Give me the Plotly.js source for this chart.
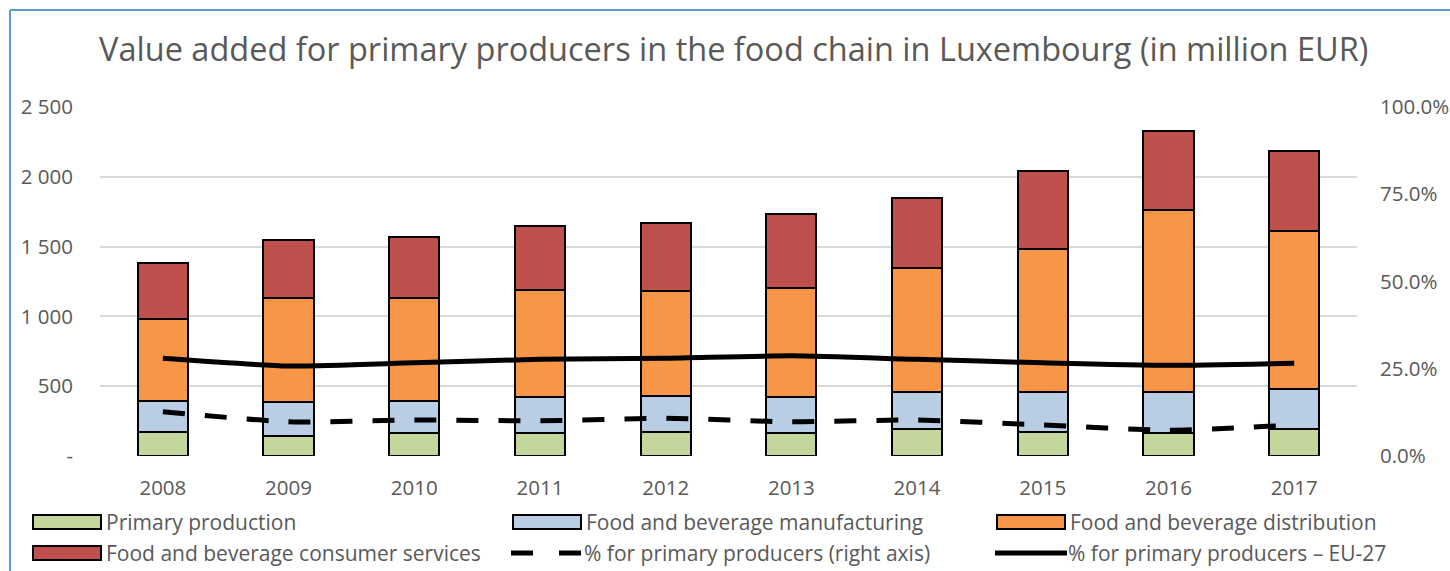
<!DOCTYPE html>
<html>
<head>
<meta charset="utf-8">
<script src="https://cdn.plot.ly/plotly-3.0.1.min.js"></script>
<style>
  html, body { margin: 0; padding: 0; background: #fff; }
  #chart { width: 1450px; height: 571px; }
</style>
</head>
<body>
<div id="chart"></div>
<script>
/* Value added in the food chain, Luxembourg - stacked bars + share lines */

const years = ['2008', '2009', '2010', '2011', '2012', '2013', '2014', '2015', '2016', '2017'];
const primaryProduction = [174, 145, 162, 162, 172, 165, 191, 174, 165, 191];
const manufacturing = [220, 240, 232, 258, 258, 258, 267, 284, 293, 287];
const distribution = [590, 747, 736, 769, 752, 783, 886, 1022, 1302, 1134];
const consumerServices = [399, 415, 439, 461, 487, 527, 506, 559, 570, 571];
const sharePrimaryLU = [12.7, 9.8, 10.3, 10.1, 10.8, 9.8, 10.3, 8.9, 7.4, 8.9];
const sharePrimaryEU = [28.0, 25.8, 26.7, 27.7, 28.0, 28.7, 27.7, 26.7, 26.0, 26.6];

const leftTicks = [0, 500, 1000, 1500, 2000, 2500];
const leftTickText = ['-', '500', '1 000', '1 500', '2 000', '2 500'];
const rightTicks = [0, 25, 50, 75, 100];
const rightTickText = ['0.0%', '25.0%', '50.0%', '75.0%', '100.0%'];

const FONT = '"Open Sans", Lato, sans-serif';
const GREY = '#595959';

// plot area in pixels (used to place the hand-built legend)
const PLOT = { l: 100, r: 1357, t: 107, b: 456 };
const px = x => (x - PLOT.l) / (PLOT.r - PLOT.l);
const py = y => (PLOT.b - y) / (PLOT.b - PLOT.t);

const barSeries = [
    { name: 'Primary production', y: primaryProduction, color: '#C3D69B' },
    { name: 'Food and beverage manufacturing', y: manufacturing, color: '#B9CDE5' },
    { name: 'Food and beverage distribution', y: distribution, color: '#F79646' },
    { name: 'Food and beverage consumer services', y: consumerServices, color: '#C0504D' },
];

const traces = barSeries.map(s => ({
    x: years, y: s.y, name: s.name,
    type: 'bar', width: 0.4,
    marker: { color: s.color, line: { color: '#000', width: 2 } },
}));

traces.push({
    x: years, y: sharePrimaryLU, yaxis: 'y2',
    name: '% for primary producers (right axis)',
    type: 'scatter', mode: 'lines',
    line: { color: '#000', width: 5, dash: '22px,20px', shape: 'spline', smoothing: 0.6 },
});
traces.push({
    x: years, y: sharePrimaryEU, yaxis: 'y2',
    name: '% for primary producers \u2013 EU-27',
    type: 'scatter', mode: 'lines',
    line: { color: '#000', width: 5, shape: 'spline', smoothing: 0.6 },
});

// legend, drawn by hand to get the wide Excel-style swatches
const legendItems = [
    { kind: 'box', color: '#C3D69B', x: 33, y: 522, text: 'Primary production' },
    { kind: 'box', color: '#B9CDE5', x: 513, y: 522, text: 'Food and beverage manufacturing' },
    { kind: 'box', color: '#F79646', x: 997, y: 522, text: 'Food and beverage distribution' },
    { kind: 'box', color: '#C0504D', x: 33, y: 553, text: 'Food and beverage consumer services' },
    { kind: 'dash', x: 511, y: 553, text: '% for primary producers (right axis)' },
    { kind: 'line', x: 995, y: 553, text: '% for primary producers \u2013 EU-27' },
];

const shapes = [
    // chart frame (blue selection border on left / top)
    { type: 'line', xref: 'paper', yref: 'paper', x0: px(10), x1: px(1450), y0: py(10), y1: py(10),
      line: { color: '#5B9BD5', width: 2 } },
    { type: 'line', xref: 'paper', yref: 'paper', x0: px(10), x1: px(10), y0: py(10), y1: py(571),
      line: { color: '#5B9BD5', width: 2 } },
];
const annotations = [];

legendItems.forEach(it => {
    if (it.kind === 'box') {
        shapes.push({ type: 'rect', xref: 'paper', yref: 'paper',
            x0: px(it.x), x1: px(it.x + 68), y0: py(it.y - 7), y1: py(it.y + 7),
            fillcolor: it.color, line: { color: '#000', width: 2 } });
    } else {
        shapes.push({ type: 'line', xref: 'paper', yref: 'paper',
            x0: px(it.x), x1: px(it.x + 72), y0: py(it.y), y1: py(it.y),
            line: { color: '#000', width: 5, dash: it.kind === 'dash' ? '22px,26px' : 'solid' } });
    }
    annotations.push({ xref: 'paper', yref: 'paper', x: px(it.x + 71), y: py(it.y),
        xanchor: 'left', yanchor: 'middle', showarrow: false, text: it.text,
        font: { family: FONT, size: 21, color: GREY } });
});

const layout = {
    width: 1450, height: 571,
    margin: { l: PLOT.l, r: 1450 - PLOT.r, t: PLOT.t, b: 571 - PLOT.b },
    paper_bgcolor: '#fff', plot_bgcolor: '#fff',
    font: { family: FONT, color: GREY },
    title: {
        text: 'Value added for primary producers in the food chain in Luxembourg (in million EUR)',
        x: 0.506, xanchor: 'center', y: 1 - 50 / 571, yanchor: 'middle',
        font: { family: FONT, size: 32.5, color: GREY },
    },
    barmode: 'stack',
    showlegend: false,
    xaxis: {
        type: 'category', range: [-0.5, 9.5],
        showgrid: false, zeroline: false, showline: false, ticks: '',
        tickfont: { family: FONT, size: 20.5, color: GREY },
        ticklabelstandoff: 17,
    },
    yaxis: {
        range: [0, 2500], tickvals: leftTicks, ticktext: leftTickText,
        showgrid: true, gridcolor: '#D9D9D9', gridwidth: 2,
        zeroline: false, showline: false, ticks: '',
        tickfont: { family: FONT, size: 20.5, color: GREY },
        ticklabelstandoff: 26,
    },
    yaxis2: {
        overlaying: 'y', side: 'right',
        range: [0, 100], tickvals: rightTicks, ticktext: rightTickText,
        showgrid: false, zeroline: false, showline: false, ticks: '',
        tickfont: { family: FONT, size: 20.5, color: GREY },
        ticklabelstandoff: 22,
    },
    shapes, annotations,
};

Plotly.newPlot('chart', traces, layout, { displayModeBar: false, staticPlot: true });
</script>
</body>
</html>
